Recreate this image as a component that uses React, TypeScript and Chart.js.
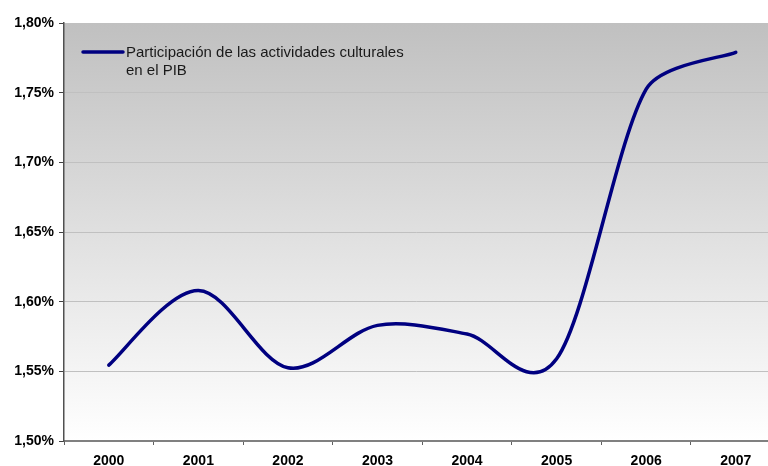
import React, { useEffect, useRef } from "react";
import { Chart, registerables } from "chart.js";

Chart.register(...registerables);

const years = ["2000", "2001", "2002", "2003", "2004", "2005", "2006", "2007"];
const shares = [1.5545, 1.608, 1.5526, 1.583, 1.5768, 1.559, 1.7526, 1.779];
const seriesLabel = ["Participación de las actividades culturales", "en el PIB"];
const yTicks = [1.5, 1.55, 1.6, 1.65, 1.7, 1.75, 1.8];

const FONT = "'Liberation Sans', Arial, sans-serif";

const bgPlugin = {
  id: "bgGradient",
  beforeDraw(chart: any) {
    const { ctx, chartArea } = chart;
    if (!chartArea) return;
    const g = ctx.createLinearGradient(0, chartArea.top, 0, chartArea.bottom);
    g.addColorStop(0, "#c0c0c0");
    g.addColorStop(1, "#ffffff");
    ctx.save();
    ctx.fillStyle = g;
    ctx.fillRect(chartArea.left, chartArea.top, chartArea.right - chartArea.left, chartArea.bottom - chartArea.top);
    ctx.restore();
  },
};

// Office-like smoothing: Catmull-Rom control points (1/6 of neighbour span),
// with the outgoing arm limited relative to the following segment.
const smoothPlugin = {
  id: "officeSmooth",
  beforeDatasetDraw(chart: any, args: any) {
    const meta = chart.getDatasetMeta(args.index);
    const line = meta.dataset;
    if (!line) return;
    line.updateControlPoints(chart.chartArea, "x");
    const pts = meta.data;
    for (let i = 0; i < pts.length; i++) {
      const p = pts[i];
      const prev = pts[i - 1] || p;
      const next = pts[i + 1] || p;
      const dx = (next.x - prev.x) / 6;
      const dy = (next.y - prev.y) / 6;
      p.cp1x = p.x - dx;
      p.cp1y = p.y - dy;
      const len = Math.hypot(dx, dy);
      const seg = Math.hypot(next.x - p.x, next.y - p.y);
      const s = len > 0 && len > 0.3 * seg ? (0.3 * seg) / len : 1;
      p.cp2x = p.x + dx * s;
      p.cp2y = p.y + dy * s;
    }
    line._path = undefined;
  },
};

const legendPlugin = {
  id: "innerLegend",
  afterDraw(chart: any) {
    const { ctx } = chart;
    const ds = chart.data.datasets[0];
    const x0 = 83;
    const y0 = 52;
    ctx.save();
    ctx.strokeStyle = ds.borderColor;
    ctx.lineWidth = 3.5;
    ctx.lineCap = "round";
    ctx.beginPath();
    ctx.moveTo(x0, y0);
    ctx.lineTo(x0 + 40, y0);
    ctx.stroke();
    ctx.fillStyle = "#1a1a1a";
    ctx.font = `15px ${FONT}`;
    ctx.textBaseline = "middle";
    ctx.textAlign = "left";
    seriesLabel.forEach((t, i) => ctx.fillText(t, x0 + 43, y0 + 1 + i * 18));
    ctx.restore();
  },
};

export default function App() {
  const ref = useRef<HTMLCanvasElement>(null);
  useEffect(() => {
    if (!ref.current) return;
    const chart = new Chart(ref.current, {
      type: "line",
      data: {
        datasets: [
          {
            label: seriesLabel.join(" "),
            data: shares.map((v, i) => ({ x: i, y: v })),
            borderColor: "#000080",
            borderWidth: 3.5,
            pointRadius: 0,
            tension: 0.4,
            fill: false,
            borderCapStyle: "round",
            borderJoinStyle: "round",
          },
        ],
      },
      options: {
        animation: false,
        responsive: false,
        maintainAspectRatio: false,
        layout: { padding: { top: 23, right: 0, bottom: 0, left: 0 } },
        plugins: { legend: { display: false }, tooltip: { enabled: false } },
        scales: {
          x: {
            type: "linear",
            min: -0.5,
            max: 7.36,
            afterBuildTicks(scale: any) {
              const t = [];
              for (let v = -0.5; v <= 7.01; v += 0.5) t.push({ value: v });
              scale.ticks = t;
            },
            afterFit(scale: any) {
              scale.height = 25;
            },
            ticks: {
              autoSkip: false,
              maxRotation: 0,
              padding: 8,
              color: "#000",
              font: { family: FONT, size: 14, weight: "bold" },
              callback: (v: any) => (Number.isInteger(v) ? years[v] : ""),
            },
            grid: {
              drawOnChartArea: false,
              drawTicks: true,
              tickLength: 4,
              tickColor: (c: any) => (Number.isInteger(c.tick.value) ? "rgba(0,0,0,0)" : "#606060"),
            },
            border: { display: true, color: "#808080", width: 2 },
          },
          y: {
            min: 1.5,
            max: 1.8,
            afterBuildTicks(scale: any) {
              scale.ticks = yTicks.map((v) => ({ value: v }));
            },
            afterFit(scale: any) {
              scale.width = 64;
            },
            ticks: {
              padding: 5,
              color: "#000",
              font: { family: FONT, size: 14, weight: "bold" },
              callback: (v: any) => Number(v).toFixed(2).replace(".", ",") + "%",
            },
            grid: {
              color: (c: any) => (c.tick.value === 1.5 || c.tick.value === 1.8 ? "rgba(0,0,0,0)" : "#c0c0c0"),
              tickColor: "#404040",
              tickLength: 5,
              lineWidth: 1,
            },
            border: { display: true, color: "#505050", width: 1.5 },
          },
        },
      },
      plugins: [bgPlugin, smoothPlugin, legendPlugin],
    });
    return () => chart.destroy();
  }, []);
  return (
    <div style={{ position: "absolute", left: 0, top: 0, width: 768, height: 466, background: "#fff" }}>
      <canvas ref={ref} width={768} height={466} style={{ width: 768, height: 466 }} />
    </div>
  );
}
